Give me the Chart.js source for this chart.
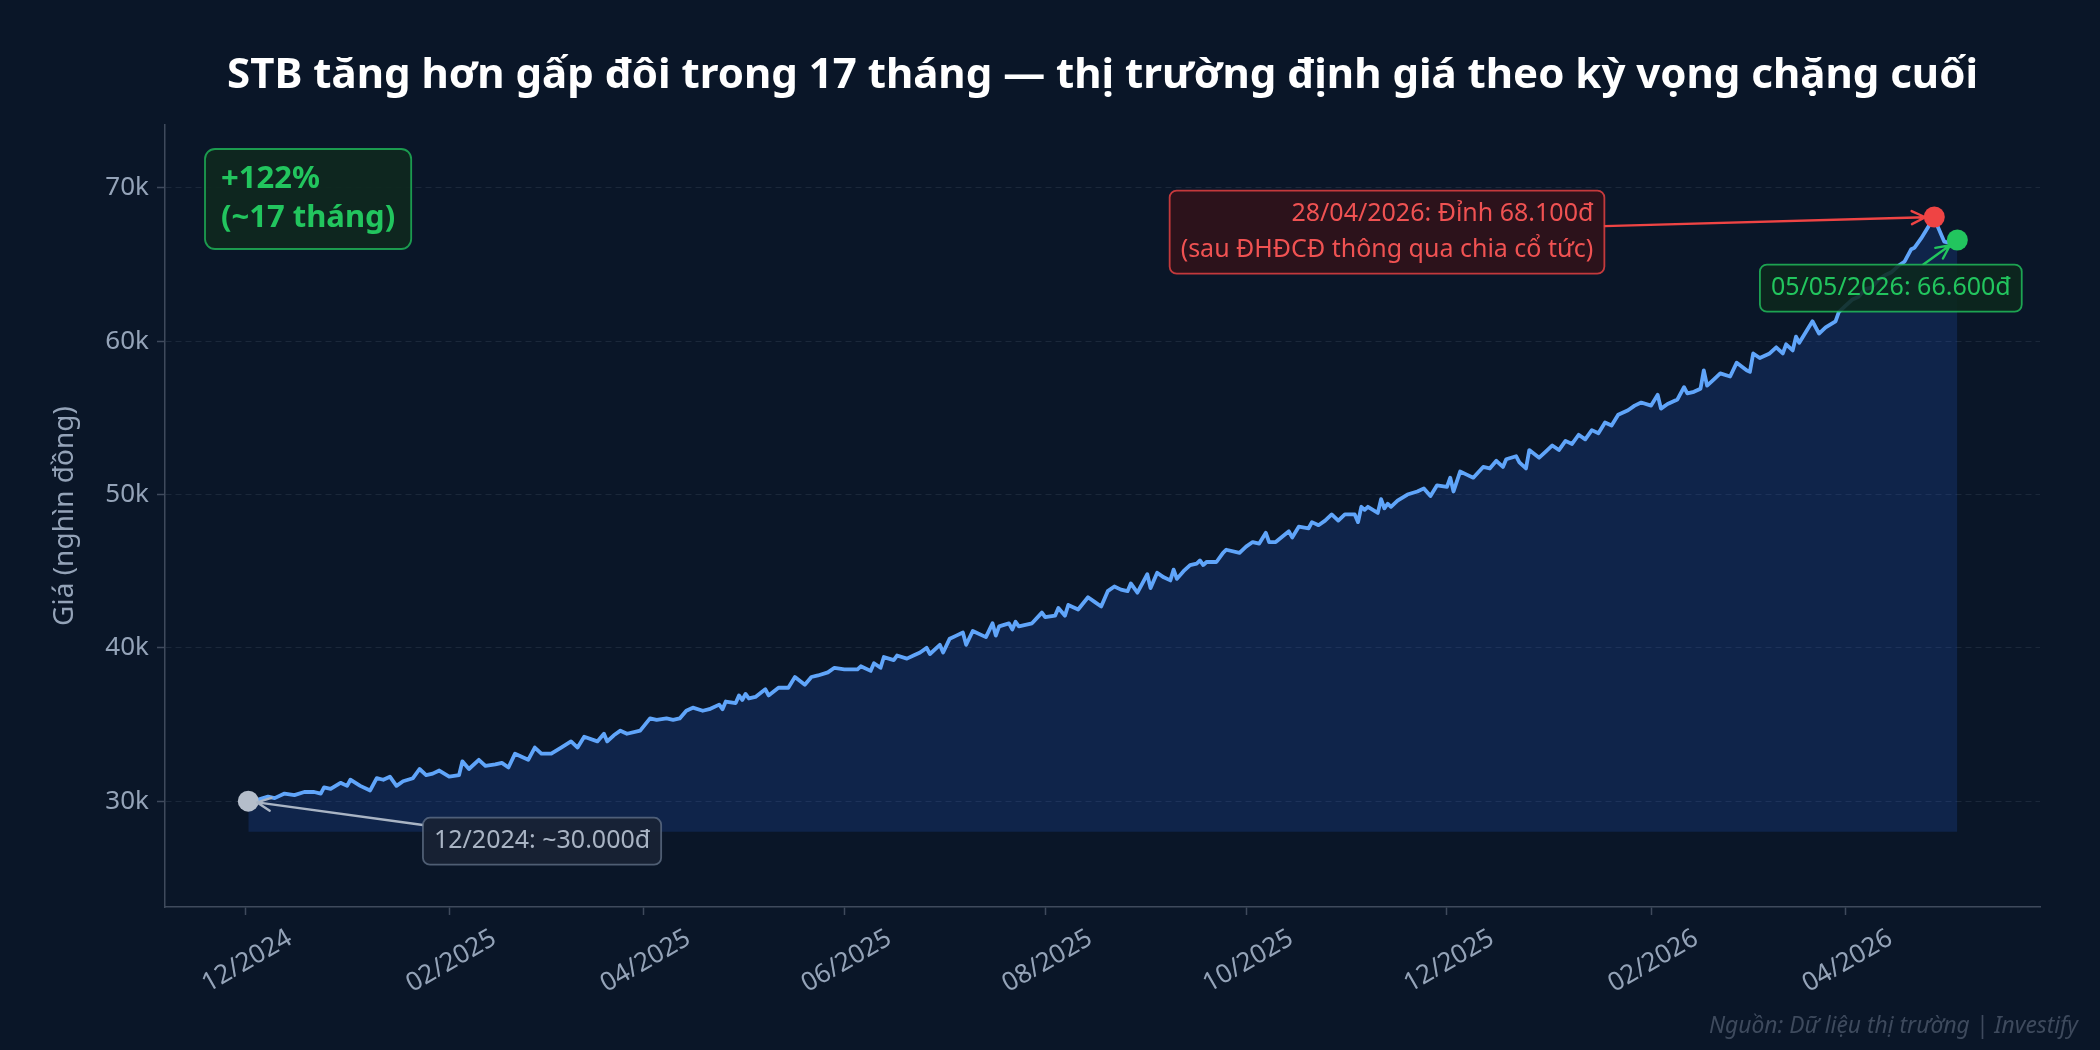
<!DOCTYPE html>
<html>
<head>
<meta charset="utf-8">
<script src="https://cdn.jsdelivr.net/npm/chart.js@4.4.1/dist/chart.umd.min.js"></script>
<style>
  html, body { margin: 0; padding: 0; background: #0a1628; }
  canvas { display: block; }
</style>
</head>
<body>

<canvas id="stbChart" width="2100" height="1050"></canvas>

<script>
// số ngày tính từ 01/12/2024
const dayIndex = [
  1, 4, 7, 9, 12, 15, 18, 21, 23, 24, 26, 29, 31, 32, 35, 38, 40, 42, 44, 46,
  48, 51, 53, 55, 57, 59, 62, 65, 66, 68, 71, 73, 76, 78, 80, 82, 84, 86, 88, 90,
  93, 96, 99, 101, 103, 107, 109, 110, 112, 114, 116, 120, 123, 125, 128, 130, 132, 134, 136, 139,
  141, 144, 145, 146, 149, 150, 151, 152, 153, 155, 158, 159, 162, 165, 167, 170, 172, 174, 177, 179,
  182, 186, 187, 190, 191, 193, 194, 197, 198, 201, 203, 205, 207, 208, 211, 212, 214, 216, 218, 219,
  221, 225, 227, 228, 229, 232, 233, 234, 235, 239, 242, 243, 246, 247, 249, 250, 253, 256, 258, 260,
  262, 264, 266, 268, 269, 271, 274, 275, 277, 279, 281, 282, 283, 285, 287, 289, 290, 291, 292, 295,
  297, 298, 302, 304, 306, 308, 310, 311, 313, 317, 318, 320, 323, 324, 326, 328, 330, 332, 334, 337,
  338, 339, 340, 341, 344, 345, 346, 347, 348, 350, 353, 356, 358, 360, 362, 365, 366, 367, 369, 371,
  373, 376, 378, 380, 382, 383, 386, 387, 389, 390, 393, 395, 397, 399, 401, 403, 405, 407, 409, 411,
  413, 415, 417, 420, 422, 424, 427, 429, 430, 432, 435, 437, 438, 440, 442, 443, 444, 446, 448, 451,
  453, 456, 457, 458, 460, 463, 465, 467, 468, 470, 471, 472, 474, 476, 478, 480, 483, 484, 486, 488,
  490, 492, 494, 496, 498, 500, 502, 504, 506, 507, 509, 511, 513, 514, 516, 518, 520
];

// giá đóng cửa (đồng)
const prices = [
  30000, 30100, 30300, 30200, 30500, 30400, 30600, 30600, 30500, 30900, 30800, 31200, 31000, 31400, 31000, 30700, 31500, 31400, 31600, 31000,
  31300, 31500, 32100, 31700, 31800, 32000, 31600, 31700, 32600, 32100, 32700, 32300, 32400, 32500, 32200, 33100, 32900, 32700, 33500, 33100,
  33100, 33500, 33900, 33500, 34200, 33900, 34400, 33900, 34300, 34600, 34400, 34600, 35400, 35300, 35400, 35300, 35400, 35900, 36100, 35900,
  36000, 36300, 36000, 36500, 36400, 36900, 36600, 37000, 36700, 36800, 37300, 36900, 37400, 37400, 38100, 37600, 38100, 38200, 38400, 38700,
  38600, 38600, 38800, 38500, 39000, 38700, 39400, 39200, 39500, 39300, 39500, 39700, 40000, 39600, 40200, 39700, 40600, 40800, 41000, 40200,
  41100, 40700, 41600, 40800, 41400, 41600, 41200, 41700, 41400, 41600, 42300, 42000, 42100, 42600, 42100, 42800, 42500, 43300, 43000, 42700,
  43700, 44000, 43800, 43700, 44200, 43600, 44800, 43900, 44900, 44600, 44400, 45100, 44500, 45000, 45400, 45500, 45700, 45400, 45600, 45600,
  46200, 46400, 46200, 46600, 46900, 46800, 47500, 46900, 46900, 47600, 47200, 47900, 47800, 48200, 48000, 48300, 48700, 48300, 48700, 48700,
  48200, 49200, 49000, 49200, 48800, 49700, 49100, 49400, 49200, 49600, 50000, 50200, 50400, 49900, 50600, 50500, 51100, 50200, 51500, 51300,
  51100, 51800, 51700, 52200, 51800, 52300, 52500, 52100, 51700, 52900, 52400, 52800, 53200, 52900, 53500, 53300, 53900, 53600, 54200, 54000,
  54700, 54500, 55200, 55500, 55800, 56000, 55800, 56500, 55600, 55900, 56200, 57000, 56600, 56700, 56900, 58100, 57100, 57500, 57900, 57700,
  58600, 58100, 58000, 59200, 58900, 59200, 59600, 59200, 59800, 59400, 60300, 59900, 60600, 61300, 60500, 60900, 61300, 61900, 62300, 62700,
  62900, 63400, 63500, 64000, 64300, 64500, 64900, 65200, 66000, 66100, 66700, 67400, 68100, 67500, 66500, 66400, 66600
];

// các điểm được đánh dấu: đầu kỳ, đỉnh 28/04/2026, 05/05/2026
const markerDays = [1, 513, 520];
const markerPrices = [30000, 68100, 66600];
const markerColors = ['#b4bdca', '#ef4444', '#22c55e'];

const xTickDays = [0, 62, 121, 182, 243, 304, 365, 427, 486];
const xTickLabels = ['12/2024', '02/2025', '04/2025', '06/2025', '08/2025', '10/2025', '12/2025', '02/2026', '04/2026'];
const yTickValues = [30000, 40000, 50000, 60000, 70000];

const FONT = 'Noto Sans';
const BG = '#0a1628';
const AXIS = '#3f4a5c';
const TICK_TXT = '#94a3b8';

// chú thích: tâm hộp đặt theo toạ độ dữ liệu, mũi tên chỉ tới marker
const notes = [
  { lines: ['12/2024: ~30.000đ'], day: 90.2, price: 27390, target: 0, align: 'center',
    text: '#a9b4c4', fill: 'rgba(24,34,52,0.9)', stroke: 'rgba(100,116,139,0.75)', arrow: '#a9b4c4' },
  { lines: ['28/04/2026: Đỉnh 68.100đ', '(sau ĐHĐCĐ thông qua chia cổ tức)'], day: 346.8, price: 67117, target: 1, align: 'right',
    text: '#f05252', fill: 'rgba(48,18,26,0.92)', stroke: 'rgba(239,68,68,0.8)', arrow: '#ef4444' },
  { lines: ['05/05/2026: 66.600đ'], day: 499.8, price: 63464, target: 2, align: 'center',
    text: '#22c55e', fill: 'rgba(12,40,28,0.88)', stroke: 'rgba(34,197,94,0.8)', arrow: '#22c55e' }
];

function edgePoint(cx, cy, w, h, tx, ty) {
  const dx = tx - cx, dy = ty - cy;
  const sx = dx !== 0 ? (w / 2) / Math.abs(dx) : Infinity;
  const sy = dy !== 0 ? (h / 2) / Math.abs(dy) : Infinity;
  const s = Math.min(sx, sy);
  return [cx + dx * s, cy + dy * s];
}

function drawArrow(ctx, x1, y1, x2, y2, color) {
  const ang = Math.atan2(y2 - y1, x2 - x1);
  const shrink = 9;
  const ex = x2 - Math.cos(ang) * shrink, ey = y2 - Math.sin(ang) * shrink;
  ctx.save();
  ctx.strokeStyle = color;
  ctx.lineWidth = 2.4;
  ctx.lineCap = 'round';
  ctx.lineJoin = 'round';
  ctx.beginPath();
  ctx.moveTo(x1, y1);
  ctx.lineTo(ex, ey);
  const hl = 15, hw = 0.45;
  ctx.moveTo(ex - hl * Math.cos(ang - hw), ey - hl * Math.sin(ang - hw));
  ctx.lineTo(ex, ey);
  ctx.lineTo(ex - hl * Math.cos(ang + hw), ey - hl * Math.sin(ang + hw));
  ctx.stroke();
  ctx.restore();
}

const bgPlugin = {
  id: 'bg',
  beforeDraw(chart) {
    const ctx = chart.ctx;
    ctx.save();
    ctx.fillStyle = BG;
    ctx.fillRect(0, 0, chart.width, chart.height);
    ctx.restore();
  }
};

const notesPlugin = {
  id: 'notes',
  afterDatasetsDraw(chart) {
    const ctx = chart.ctx;
    const xs = chart.scales.x, ys = chart.scales.y;
    const area = chart.chartArea;

    ctx.save();
    ctx.font = '25px "' + FONT + '"';
    ctx.textBaseline = 'middle';
    const padX = 11, padY = 5.5, lineH = 36;

    notes.forEach(n => {
      const cx = xs.getPixelForValue(n.day);
      const cy = ys.getPixelForValue(n.price);
      const tw = Math.max(...n.lines.map(l => ctx.measureText(l).width));
      const w = tw + padX * 2;
      const h = n.lines.length * lineH + padY * 2;
      const tx = xs.getPixelForValue(markerDays[n.target]);
      const ty = ys.getPixelForValue(markerPrices[n.target]);
      const [sx, sy] = edgePoint(cx, cy, w, h, tx, ty);
      drawArrow(ctx, sx, sy, tx, ty, n.arrow);

      ctx.beginPath();
      ctx.roundRect(cx - w / 2, cy - h / 2, w, h, 7);
      ctx.fillStyle = n.fill;
      ctx.fill();
      ctx.lineWidth = 1.8;
      ctx.strokeStyle = n.stroke;
      ctx.stroke();

      ctx.fillStyle = n.text;
      ctx.textAlign = n.align;
      const lx = n.align === 'right' ? cx + w / 2 - padX : cx;
      n.lines.forEach((l, i) => {
        ctx.fillText(l, lx, cy - h / 2 + padY + lineH * (i + 0.5));
      });
    });

    // hộp tổng kết góc trên trái
    const bx = area.left + 40, by = area.top + 24;
    ctx.font = 'bold 31px "' + FONT + '"';
    const sumLines = ['+122%', '(~17 tháng)'];
    const sw = Math.max(...sumLines.map(l => ctx.measureText(l).width)) + 32;
    ctx.beginPath();
    ctx.roundRect(bx, by, sw, 100, 10);
    ctx.fillStyle = 'rgba(14,40,30,0.9)';
    ctx.fill();
    ctx.lineWidth = 1.8;
    ctx.strokeStyle = 'rgba(34,197,94,0.75)';
    ctx.stroke();
    ctx.fillStyle = '#22c55e';
    ctx.textAlign = 'left';
    ctx.fillText(sumLines[0], bx + 16, by + 30);
    ctx.fillText(sumLines[1], bx + 16, by + 69);

    // nguồn
    ctx.font = 'italic 22.8px "' + FONT + '"';
    ctx.fillStyle = '#3e4a5d';
    ctx.textAlign = 'right';
    ctx.textBaseline = 'alphabetic';
    ctx.fillText('Nguồn: Dữ liệu thị trường | Investify', 2078, 1033);
    ctx.restore();
  }
};

const chart = new Chart('stbChart', {
  type: 'line',
  data: {
    datasets: [
      {
        type: 'scatter',
        order: 0,
        data: markerDays.map((d, i) => ({ x: d, y: markerPrices[i] })),
        pointBackgroundColor: markerColors,
        pointBorderWidth: 0,
        pointRadius: 10.5
      },
      {
        order: 1,
        data: dayIndex.map((d, i) => ({ x: d, y: prices[i] })),
        borderColor: '#60a5fa',
        borderWidth: 3.8,
        borderJoinStyle: 'round',
        tension: 0,
        pointRadius: 0,
        fill: { value: 28000 },
        backgroundColor: 'rgba(37,99,235,0.18)'
      }
    ]
  },
  options: {
    responsive: false,
    devicePixelRatio: 1,
    animation: false,
    layout: { padding: { left: 0, right: 60, top: 0, bottom: 0 } },
    plugins: {
      legend: { display: false },
      tooltip: { enabled: false },
      title: {
        display: true,
        fullSize: false,
        text: 'STB tăng hơn gấp đôi trong 17 tháng — thị trường định giá theo kỳ vọng chặng cuối',
        color: '#ffffff',
        font: { family: FONT, size: 42, weight: 'bold' },
        padding: { top: 51, bottom: 23.6 }
      }
    },
    scales: {
      x: {
        type: 'linear',
        min: -24.3,
        max: 545.1,
        afterBuildTicks: s => { s.ticks = xTickDays.map(v => ({ value: v })); },
        afterFit: s => { s.height = 143; },
        ticks: {
          color: TICK_TXT,
          font: { family: FONT, size: 26 },
          minRotation: 30,
          maxRotation: 30,
          autoSkip: false,
          padding: 8,
          labelOffset: 45,
          callback: v => xTickLabels[xTickDays.indexOf(v)]
        },
        grid: { drawOnChartArea: false, tickColor: AXIS, tickLength: 8, tickWidth: 1.5 },
        border: { color: AXIS, width: 1.5 }
      },
      y: {
        type: 'linear',
        min: 23100,
        max: 74100,
        afterBuildTicks: s => { s.ticks = yTickValues.map(v => ({ value: v })); },
        afterFit: s => { s.width = 165; },
        ticks: {
          color: TICK_TXT,
          font: { family: FONT, size: 26 },
          padding: 8,
          callback: v => (v / 1000) + 'k'
        },
        grid: { color: 'rgba(148,163,184,0.13)', lineWidth: 1, tickColor: AXIS, tickLength: 8, tickWidth: 1.5 },
        border: { color: AXIS, width: 1.5, dash: [6, 4] },
        title: {
          display: true,
          text: 'Giá (nghìn đồng)',
          color: TICK_TXT,
          font: { family: FONT, size: 28 },
          padding: { top: 48, bottom: 0 }
        }
      }
    }
  },
  plugins: [bgPlugin, notesPlugin]
});
</script>

</body>
</html>
